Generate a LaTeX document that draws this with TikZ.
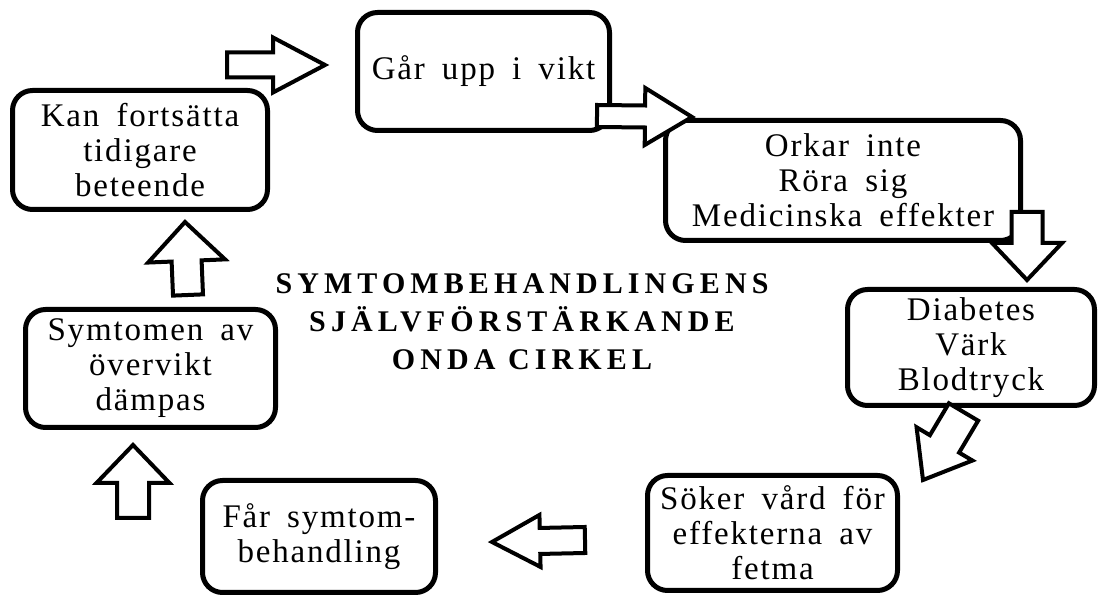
\documentclass[tikz,border=0pt]{standalone}
\usepackage{fontspec}
\setmainfont{Liberation Serif}[LetterSpace=5.5,WordSpace=1.7]
\newfontfamily\titlefont{Liberation Serif}[LetterSpace=17]
\usetikzlibrary{calc}
\tikzset{
  box/.style={draw=black, fill=white, line width=2.5pt, rounded corners=10pt, align=center, inner sep=0pt, font=\fontsize{16.5}{17.5}\selectfont},
  fatarr/.style={draw=black, fill=white, line width=2pt, line join=miter},
  titletext/.style={align=center, font=\titlefont\bfseries\fontsize{15}{19}\selectfont}
}
% hollow block arrow: from, to, body half width, head half width, head length
\newcommand{\fatarrow}[5]{%
  \draw[fatarr] let \p1=($(#2)-(#1)$), \n1={atan2(\y1,\x1)}, \n2={veclen(\x1,\y1)-#5} in
    ($(#1)+({\n1+90}:#3)$) -- ($(#1)+(\n1:\n2)+({\n1+90}:#3)$) -- ($(#1)+(\n1:\n2)+({\n1+90}:#4)$)
    -- (#2) -- ($(#1)+(\n1:\n2)+({\n1-90}:#4)$) -- ($(#1)+(\n1:\n2)+({\n1-90}:#3)$)
    -- ($(#1)+({\n1-90}:#3)$) -- cycle;}

\begin{document}
\begin{tikzpicture}[x=0.5pt,y=-0.5pt]
\useasboundingbox (0,0) rectangle (1098,597);
% boxes of the circle
\node[box, minimum width=126pt, minimum height=59pt] (gaar) at (483.5,71.5) {Går upp i vikt};
\node[box, minimum width=177.5pt, minimum height=60pt] (orkar) at (843,180.5) {Orkar inte\\Röra sig\\Medicinska effekter};
\node[box, minimum width=123.5pt, minimum height=58pt] (diab) at (971,347.5) {Diabetes\\Värk\\Blodtryck};
\node[box, minimum width=125pt, minimum height=57.5pt] (soker) at (772.5,533) {Söker vård för\\effekterna av\\fetma};
\node[box, minimum width=116.5pt, minimum height=56pt] (faar) at (319,536.5) {Får symtom-\\behandling};
\node[box, minimum width=125pt, minimum height=59pt] (symt) at (150.5,368.5) {Symtomen av\\övervikt\\dämpas};
\node[box, minimum width=127.5pt, minimum height=59.5pt] (kan) at (140,150) {Kan fortsätta\\tidigare\\beteende};
% title
\node[titletext] (titel) at (522,322) {SYMTOMBEHANDLINGENS\\SJÄLVFÖRSTÄRKANDE\\ONDA CIRKEL};
% arrow ends
\coordinate (a1s) at (227,65);    \coordinate (a1t) at (325,65);
\coordinate (a2s) at (597,116);   \coordinate (a2t) at (692,117);
\coordinate (a3s) at (1027,212);  \coordinate (a3t) at (1027,280);
\coordinate (a4s) at (963.5,412); \coordinate (a4t) at (923,480);
\coordinate (a5s) at (585,540);   \coordinate (a5t) at (492,542);
\coordinate (a6s) at (133,518);   \coordinate (a6t) at (133,445);
\coordinate (a7s) at (188,295);   \coordinate (a7t) at (185,222);
% arrows
\fatarrow{a1s}{a1t}{6.25pt}{13.75pt}{26pt}
\fatarrow{a2s}{a2t}{5.5pt}{14.25pt}{23.5pt}
\fatarrow{a3s}{a3t}{7.75pt}{17.5pt}{18.5pt}
\fatarrow{a4s}{a4t}{8.5pt}{16.25pt}{21pt}
\fatarrow{a5s}{a5t}{6.5pt}{13pt}{24pt}
\fatarrow{a6s}{a6t}{8pt}{18.25pt}{19pt}
\fatarrow{a7s}{a7t}{7.5pt}{19.25pt}{19.5pt}
\end{tikzpicture}
\end{document}
